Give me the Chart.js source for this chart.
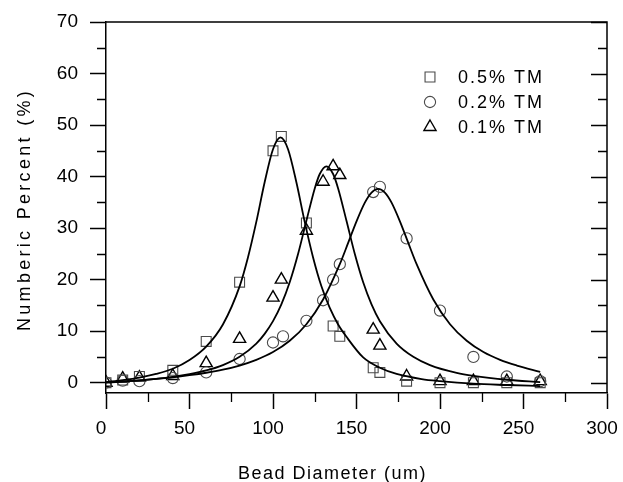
<!DOCTYPE html>
<html><head><meta charset="utf-8">
<script src="https://cdn.jsdelivr.net/npm/chart.js@4/dist/chart.umd.min.js"></script>
<style>html,body{margin:0;padding:0;background:#fff}#wrap{width:623px;height:482px}</style>
</head><body><div id="wrap"><canvas id="c" width="623" height="482"></canvas></div>
<script>
// ---- data ----
const seriesLabels = ['0.5% TM', '0.2% TM', '0.1% TM'];
const xAxisTitle = 'Bead Diameter (um)';
const yAxisTitle = 'Numberic Percent (%)';
const xTicks = [0, 50, 100, 150, 200, 250, 300];
const xMinorTicks = [25, 75, 125, 175, 225, 275];
const yTicks = [0, 10, 20, 30, 40, 50, 60, 70];
const yMinorTicks = [5, 15, 25, 35, 45, 55, 65];

// measured points
const tm05X = [0, 10, 20, 40, 60, 80, 100, 105, 120, 136, 140, 160, 164, 180, 200, 220, 240, 260];
const tm05Y = [0, 0.5, 1.2, 2.4, 8, 19.5, 45, 47.8, 31, 11, 9, 2.9, 2, 0.3, 0, 0, 0, 0];
const tm02X = [0, 10, 20, 40, 60, 80, 100, 106, 120, 130, 136, 140, 160, 164, 180, 200, 220, 240, 260];
const tm02Y = [0, 0.4, 0.3, 0.9, 2, 4.6, 7.8, 9, 12, 16, 20, 23, 37, 38, 28, 14, 5, 1.2, 0.3];
const tm01X = [0, 10, 20, 40, 60, 80, 100, 105, 120, 130, 136, 140, 160, 164, 180, 200, 220, 240, 260];
const tm01Y = [0, 0.8, 1.0, 1.3, 3.8, 8.5, 16.5, 20, 29.5, 39, 42, 40.3, 10.3, 7.2, 1.2, 0.3, 0.3, 0.3, 0.3];

// fitted curves
const fit05X = [0, 10, 20, 30, 40, 50, 60, 70, 80, 85, 90, 95, 100, 104.5, 109, 114, 119, 124, 129, 134, 139, 144, 154, 164, 174, 189, 200, 220, 240, 260];
const fit05Y = [0.1, 0.5, 1.0, 1.7, 2.7, 4.4, 7.0, 11.3, 18.7, 24.3, 31.2, 38.9, 45.3, 47.6, 45.3, 38.9, 31.2, 24.3, 18.7, 14.5, 11.3, 8.9, 4.9, 2.9, 1.7, 0.7, 0.3, -0.2, -0.45, -0.65];
const fit02X = [0, 10, 20, 30, 40, 50, 60, 70, 80, 90, 100, 110, 120, 130, 140, 145, 150, 155, 159, 163, 167, 171, 176, 181, 186, 196, 206, 216, 226, 236, 246, 260];
const fit02Y = [0.0, 0.2, 0.45, 0.75, 1.05, 1.45, 1.93, 2.53, 3.33, 4.42, 5.94, 8.13, 11.35, 16.14, 23.0, 27.13, 31.32, 34.95, 36.9, 37.6, 36.9, 34.95, 31.32, 27.13, 23.0, 16.14, 11.35, 8.13, 5.94, 4.42, 3.33, 2.1];
const fit01X = [0, 10, 20, 30, 40, 50, 60, 70, 80, 90, 95, 100, 105, 110, 115, 120, 125, 128, 132, 136, 139, 144, 149, 154, 159, 164, 174, 184, 194, 210, 220, 240, 260];
const fit01Y = [0.06, 0.24, 0.46, 0.75, 1.13, 1.65, 2.37, 3.42, 5.03, 7.6, 9.48, 11.94, 15.21, 19.5, 24.98, 31.42, 37.7, 40.5, 42, 40.5, 37.7, 31.42, 24.98, 19.5, 15.21, 11.94, 7.6, 5.03, 3.42, 1.9, 1.32, 0.57, 0.13];

const pts = (xs, ys) => xs.map((x, i) => ({ x: x, y: ys[i] }));
const FONT = '"Liberation Sans", Arial, Helvetica, sans-serif';

const markerStyles = [
  { pointStyle: 'rect', radius: 7, color: '#4a4a4a', width: 1.1 },
  { pointStyle: 'circle', radius: 5.6, color: '#4a4a4a', width: 1.1 },
  { pointStyle: 'triangle', radius: 7, color: '#000', width: 1.4 }
];

function markerDataset(label, xs, ys, m) {
  return {
    label: label, data: pts(xs, ys), showLine: false,
    pointStyle: m.pointStyle, pointRadius: m.radius,
    pointBackgroundColor: 'rgba(0,0,0,0)', pointBorderColor: m.color, pointBorderWidth: m.width
  };
}
function curveDataset(xs, ys) {
  return {
    label: '', data: pts(xs, ys), showLine: true, pointRadius: 0,
    borderColor: '#000', borderWidth: 1.8, cubicInterpolationMode: 'monotone', fill: false
  };
}

const decor = {
  id: 'decor',
  afterDraw(chart) {
    const ctx = chart.ctx, a = chart.chartArea, x = chart.scales.x, y = chart.scales.y;
    ctx.save();
    ctx.strokeStyle = '#000';
    ctx.lineWidth = 1.5;
    ctx.beginPath();
    ctx.moveTo(a.left, a.top); ctx.lineTo(a.right, a.top); ctx.lineTo(a.right, a.bottom);
    ctx.stroke();
    ctx.lineWidth = 1.3;
    ctx.beginPath();
    xMinorTicks.forEach(v => { const p = Math.round(x.getPixelForValue(v)) + 0.5; ctx.moveTo(p, a.bottom); ctx.lineTo(p, a.bottom + 9); });
    yMinorTicks.forEach(v => {
      const p = Math.round(y.getPixelForValue(v)) + 0.5;
      ctx.moveTo(a.left, p); ctx.lineTo(a.left - 9, p);
      ctx.moveTo(a.right, p); ctx.lineTo(a.right - 9, p);
    });
    yTicks.forEach(v => { const p = Math.round(y.getPixelForValue(v)) + 0.5; ctx.moveTo(a.right, p); ctx.lineTo(a.right - 16, p); });
    ctx.stroke();

    // legend
    const lx = a.left + 324, ly0 = a.top + 55, step = 25;
    ctx.font = '18px ' + FONT;
    ctx.fillStyle = '#000';
    ctx.textBaseline = 'middle';
    ctx.textAlign = 'left';
    seriesLabels.forEach((lab, i) => {
      const m = markerStyles[i];
      const yy = ly0 + i * step;
      ctx.save();
      ctx.strokeStyle = m.color; ctx.fillStyle = 'rgba(0,0,0,0)'; ctx.lineWidth = m.width;
      Chart.helpers.drawPoint(ctx, { pointStyle: m.pointStyle, radius: m.radius, rotation: 0, borderWidth: m.width }, lx, yy);
      ctx.restore();
      ctx.fillStyle = '#000';
      try { ctx.letterSpacing = '2px'; } catch (e) {}
      ctx.fillText(lab, lx + 28, yy + 1);
    });

    // axis titles
    ctx.font = '18px ' + FONT;
    try { ctx.letterSpacing = '1.5px'; } catch (e) {}
    ctx.textAlign = 'center';
    ctx.textBaseline = 'alphabetic';
    ctx.fillText(xAxisTitle, (a.left + a.right) / 2 - 24, 479);
    ctx.save();
    try { ctx.letterSpacing = '3.3px'; } catch (e) {}
    ctx.translate(30, (a.top + a.bottom) / 2 + 2);
    ctx.rotate(-Math.PI / 2);
    ctx.fillText(yAxisTitle, 0, 0);
    ctx.restore();
    ctx.restore();
  }
};

const axisCommon = {
  type: 'linear',
  grid: { display: true, drawOnChartArea: false, drawTicks: true, tickLength: 16, tickColor: '#000', tickWidth: 1.5, color: '#000' },
  border: { display: true, color: '#000', width: 1.5 }
};

new Chart(document.getElementById('c'), {
  type: 'scatter',
  data: {
    datasets: [
      curveDataset(fit05X, fit05Y),
      curveDataset(fit02X, fit02Y),
      curveDataset(fit01X, fit01Y),
      markerDataset(seriesLabels[0], tm05X, tm05Y, markerStyles[0]),
      markerDataset(seriesLabels[1], tm02X, tm02Y, markerStyles[1]),
      markerDataset(seriesLabels[2], tm01X, tm01Y, markerStyles[2])
    ]
  },
  options: {
    responsive: false, animation: false, devicePixelRatio: 1,
    layout: { padding: { top: 22, right: 16, left: 0, bottom: 0 } },
    plugins: { legend: { display: false }, tooltip: { enabled: false }, title: { display: false } },
    scales: {
      x: Object.assign({}, axisCommon, {
        min: 0, max: 300,
        afterBuildTicks: s => { s.ticks = xTicks.map(v => ({ value: v })); },
        afterFit: s => { s.height = 89; s.paddingLeft = 0; s.paddingRight = 0; },
        ticks: { color: '#000', font: { family: FONT, size: 19 }, padding: 8, labelOffset: -5, maxRotation: 0, autoSkip: false }
      }),
      y: Object.assign({}, axisCommon, {
        min: -2, max: 70,
        afterBuildTicks: s => { s.ticks = yTicks.map(v => ({ value: v })); },
        afterFit: s => { s.width = 106; s.paddingTop = 0; s.paddingBottom = 0; },
        ticks: { color: '#000', font: { family: FONT, size: 19 }, padding: 12, autoSkip: false }
      })
    }
  },
  plugins: [decor]
});
</script>
</body></html>
